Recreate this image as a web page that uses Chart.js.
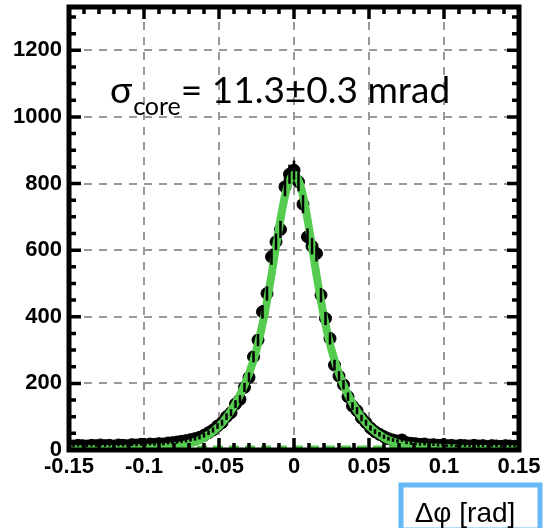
<!DOCTYPE html>
<html>
<head>
<meta charset="utf-8">
<script src="https://cdn.jsdelivr.net/npm/chart.js@4"></script>
<style>
  body { margin: 0; background: #fff; }
  canvas { display: block; }
</style>
</head>
<body>
<canvas id="dphi_chart" width="545" height="528"></canvas>
<script>
// binned data: bin width 3 mrad, centres from -0.15 to 0.15
const bin_width = 0.003
const counts = [
  13, 12, 14, 13, 12, 14, 13, 15, 13, 14, 12, 15, 14, 13, 16, 15, 17, 15, 18, 17, 19, 18, 21, 22, 24,
  26, 28, 31, 34, 38, 44, 52, 60, 72, 82, 100, 112, 138, 152, 188, 218, 280, 330, 415, 470, 580, 625, 662, 790, 828,
  840,
  805, 738, 640, 612, 590, 465, 395, 335, 255, 222, 196, 160, 132, 118, 96, 82, 66, 55, 47, 40, 34, 30, 27, 30,
  22, 20, 19, 17, 18, 15, 16, 14, 15, 13, 14, 12, 14, 13, 12, 14, 12, 13, 11, 13, 12, 11, 13, 12, 11, 12
]
const bin_centres = counts.map((c, i) => (i - 50) * bin_width)

// fitted curve
const fit_x = [-0.15, -0.13, -0.11, -0.09, -0.08, -0.07, -0.06, -0.05, -0.045, -0.04, -0.035, -0.03, -0.025, -0.02, -0.015, -0.01, -0.0075, -0.005, -0.0025, 0,
  0.0025, 0.005, 0.0075, 0.01, 0.015, 0.02, 0.025, 0.03, 0.035, 0.04, 0.045, 0.05, 0.06, 0.07, 0.08, 0.09, 0.11, 0.13, 0.15]
const fit_y = [2, 3, 4, 8, 11, 19, 37, 71, 98, 132, 175, 229, 301, 399, 526, 666, 730, 782, 815, 827,
  815, 782, 730, 666, 526, 399, 301, 229, 175, 132, 98, 71, 37, 19, 11, 8, 4, 3, 2]

// flat background level (dashed)
const bkg_x = [-0.15, 0.15]
const bkg_y = [9, 9]

const x_ticks = [-0.15, -0.1, -0.05, 0, 0.05, 0.1, 0.15]
const y_ticks = [0, 200, 400, 600, 800, 1000, 1200]

const green = '#55cc4f'

// error bars, frame with inward ticks, annotation and axis title box
const extras_plugin = {
  id: 'extras',
  afterDatasetsDraw(chart) {
    const ctx = chart.ctx
    const xs = chart.scales.x, ys = chart.scales.y
    const a = chart.chartArea
    ctx.save()
    ctx.beginPath()
    ctx.rect(a.left, a.top, a.right - a.left, a.bottom - a.top)
    ctx.clip()
    ctx.strokeStyle = '#000'
    ctx.lineWidth = 2.5
    counts.forEach((c, i) => {
      const px = xs.getPixelForValue(bin_centres[i])
      const e = Math.sqrt(c)
      ctx.beginPath()
      ctx.moveTo(px, ys.getPixelForValue(c - e))
      ctx.lineTo(px, ys.getPixelForValue(c + e))
      ctx.stroke()
    })
    ctx.restore()
  },
  afterDraw(chart) {
    const ctx = chart.ctx
    const xs = chart.scales.x, ys = chart.scales.y
    const a = chart.chartArea
    ctx.save()
    ctx.strokeStyle = '#000'
    // minor + major ticks, all four sides, pointing in
    ctx.lineWidth = 3.5
    for (let k = -15; k <= 15; k++) {
      const px = xs.getPixelForValue(k * 0.01)
      const len = (k % 5 === 0) ? 12 : 7
      ctx.beginPath()
      ctx.moveTo(px, a.bottom); ctx.lineTo(px, a.bottom - len)
      ctx.moveTo(px, a.top); ctx.lineTo(px, a.top + len)
      ctx.stroke()
    }
    for (let v = 0; v <= 1300; v += 50) {
      const py = ys.getPixelForValue(v)
      const len = (v % 200 === 0) ? 12 : 7
      ctx.beginPath()
      ctx.moveTo(a.left, py); ctx.lineTo(a.left + len, py)
      ctx.moveTo(a.right, py); ctx.lineTo(a.right - len, py)
      ctx.stroke()
    }
    ctx.lineWidth = 5
    ctx.strokeRect(a.left, a.top, a.right - a.left, a.bottom - a.top)

    // sigma annotation
    ctx.fillStyle = '#000'
    ctx.textBaseline = 'alphabetic'
    ctx.textAlign = 'left'
    let tx = 110
    const base = 103
    ctx.font = '37px Lato'
    ctx.fillText('σ', tx, base)
    tx += ctx.measureText('σ').width + 1
    ctx.font = '25px Lato'
    ctx.fillText('core', tx, base + 12)
    tx += ctx.measureText('core').width
    ctx.font = '37px Lato'
    ctx.fillText('= 11.3±0.3 mrad', tx, base)

    // x axis title in blue box
    ctx.fillStyle = '#fff'
    ctx.fillRect(401, 485, 139, 45)
    ctx.strokeStyle = '#66b8f6'
    ctx.lineWidth = 5
    ctx.strokeRect(401, 485, 139, 45)
    ctx.fillStyle = '#000'
    ctx.font = '28px "Liberation Sans"'
    ctx.textAlign = 'center'
    ctx.fillText('Δφ [rad]', 465, 522)
    ctx.restore()
  }
}

const tick_font = { family: '"Liberation Sans", Arial', size: 22, weight: 'bold' }

new Chart(document.getElementById('dphi_chart'), {
  type: 'scatter',
  data: {
    datasets: [
      {
        label: 'background',
        data: bkg_x.map((x, i) => ({ x: x, y: bkg_y[i] })),
        showLine: true,
        borderColor: green,
        borderWidth: 3,
        borderDash: [10, 6],
        pointRadius: 0,
        order: 1
      },
      {
        label: 'fit',
        data: fit_x.map((x, i) => ({ x: x, y: fit_y[i] })),
        showLine: true,
        borderColor: green,
        borderWidth: 8,
        cubicInterpolationMode: 'monotone',
        pointRadius: 0,
        order: 2
      },
      {
        label: 'data',
        data: bin_centres.map((x, i) => ({ x: x, y: counts[i] })),
        backgroundColor: '#000',
        borderColor: '#000',
        pointRadius: 6,
        order: 3
      }
    ]
  },
  options: {
    responsive: false,
    animation: false,
    layout: { padding: { top: 6, right: 26, left: 0, bottom: 48 } },
    plugins: { legend: { display: false }, tooltip: { enabled: false } },
    scales: {
      x: {
        type: 'linear',
        min: -0.15,
        max: 0.15,
        afterBuildTicks: s => { s.ticks = x_ticks.map(v => ({ value: v })) },
        afterFit: s => { s.height = 30; s.paddingLeft = 0; s.paddingRight = 0 },
        ticks: {
          font: tick_font,
          color: '#000',
          padding: 4,
          maxRotation: 0,
          callback: v => String(Math.round(v * 100) / 100)
        },
        grid: { color: '#999', lineWidth: 2, drawTicks: false },
        border: { display: false, dash: [8, 7] }
      },
      y: {
        type: 'linear',
        min: 0,
        max: 1330,
        afterBuildTicks: s => { s.ticks = y_ticks.map(v => ({ value: v })) },
        afterFit: s => { s.width = 69; s.paddingTop = 0; s.paddingBottom = 0 },
        ticks: { font: tick_font, color: '#000', padding: 7, callback: v => String(v) },
        grid: { color: '#999', lineWidth: 2, drawTicks: false },
        border: { display: false, dash: [8, 7] }
      }
    }
  },
  plugins: [extras_plugin]
})
</script>
</body>
</html>
